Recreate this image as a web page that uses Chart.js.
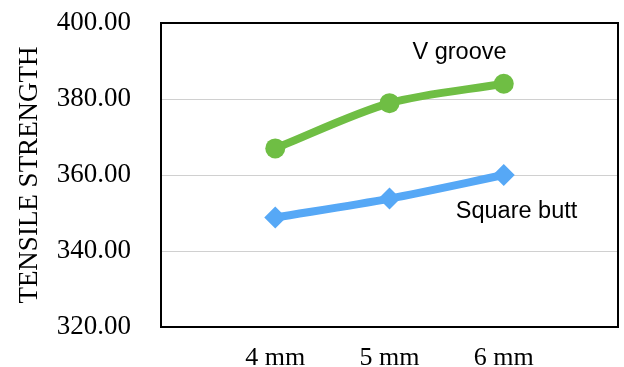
<!DOCTYPE html>
<html>
<head>
<meta charset="utf-8">
<script src="https://cdn.jsdelivr.net/npm/chart.js@4.4.1/dist/chart.umd.min.js"></script>
<style>
    body { margin: 0; background: #fff; }
    #wrap { width: 624px; height: 367px; position: relative; }
</style>
</head>
<body>
<div id="wrap"><canvas id="tensileChart"></canvas></div>
<script>
// 데이터
const categories = ["4 mm", "5 mm", "6 mm"];
const vGroove = [367.0, 378.9, 384.0];
const squareButt = [348.8, 353.8, 360.0];
const yTicks = [320, 340, 360, 380, 400];

const GREEN = "#6fbe44";
const BLUE = "#56a8f6";
const SERIF = "'Liberation Serif', 'Times New Roman', serif";

// 양쪽에 빈 칸을 두어 점들이 안쪽에 오도록
const labels = ["", ...categories, ""];
const pad = arr => [null, ...arr, null];

// 테두리 + 선 이름 표시
const framePlugin = {
    id: "frame",
    afterDraw(chart) {
        const { ctx, chartArea: a, scales } = chart;
        ctx.save();
        ctx.strokeStyle = "#000";
        ctx.lineWidth = 2;
        ctx.strokeRect(a.left, a.top, a.right - a.left, a.bottom - a.top);

        ctx.fillStyle = "#000";
        ctx.font = "23.5px 'Liberation Sans', Arial, sans-serif";
        ctx.textBaseline = "middle";
        ctx.textAlign = "left";
        ctx.fillText("V groove", scales.x.getPixelForValue(2) + 23, scales.y.getPixelForValue(392.2));
        ctx.fillText("Square butt", scales.x.getPixelForValue(3) - 48, scales.y.getPixelForValue(350.3));
        ctx.restore();
    }
};

new Chart(document.getElementById("tensileChart"), {
    type: "line",
    data: {
        labels: labels,
        datasets: [
            {
                label: "V groove",
                data: pad(vGroove),
                borderColor: GREEN,
                backgroundColor: GREEN,
                borderWidth: 8,
                tension: 0.3,
                pointStyle: "circle",
                pointRadius: 10,
                pointBorderWidth: 0,
                pointBackgroundColor: GREEN
            },
            {
                label: "Square butt",
                data: pad(squareButt),
                borderColor: BLUE,
                backgroundColor: BLUE,
                borderWidth: 8,
                tension: 0.3,
                pointStyle: "rectRot",
                pointRadius: 11,
                pointBorderWidth: 0,
                pointBackgroundColor: BLUE
            }
        ]
    },
    options: {
        responsive: true,
        maintainAspectRatio: false,
        animation: false,
        layout: { autoPadding: false, padding: { left: 0, right: 6, top: 23, bottom: 0 } },
        plugins: {
            legend: { display: false },
            tooltip: { enabled: false }
        },
        scales: {
            x: {
                offset: false,
                grid: { display: false, drawTicks: false },
                border: { display: false },
                ticks: {
                    color: "#000",
                    padding: 16,
                    maxRotation: 0,
                    autoSkip: false,
                    font: { family: SERIF, size: 26 }
                },
                afterFit: scale => {
                    scale.height = 40;
                    scale.paddingLeft = 0;
                    scale.paddingRight = 0;
                }
            },
            y: {
                min: 320,
                max: 400,
                afterBuildTicks: scale => { scale.ticks = yTicks.map(v => ({ value: v })); },
                grid: { color: "#d0d0d0", lineWidth: 1, drawTicks: false },
                border: { display: false },
                ticks: {
                    color: "#000",
                    padding: 30,
                    callback: v => Number(v).toFixed(2),
                    font: { family: SERIF, size: 27 }
                },
                title: {
                    display: true,
                    text: "TENSILE STRENGTH",
                    color: "#000",
                    padding: { top: 14, bottom: 0 },
                    font: { family: SERIF, size: 27 }
                },
                afterFit: scale => {
                    scale.width = 161;
                    scale.paddingTop = 0;
                    scale.paddingBottom = 0;
                }
            }
        }
    },
    plugins: [framePlugin]
});
</script>
</body>
</html>
